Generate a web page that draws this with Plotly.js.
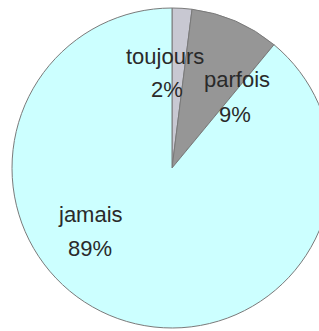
<!DOCTYPE html>
<html>
<head>
<meta charset="utf-8">
<script src="https://cdn.plot.ly/plotly-3.0.1.min.js"></script>
<style>
html,body{margin:0;padding:0;background:#fff;overflow:hidden;width:319px;height:331px;}
#chart{width:344px;height:331px;}
</style>
</head>
<body>
<div id="chart"></div>
<script>
var labels = ["toujours", "parfois", "jamais"];
var values = [2, 9, 89];
var colors = ["#c8c8d2", "#969696", "#ccffff"];
// label anchor positions (pixels in page) for each slice: [labelX, labelY, pctX, pctY]
var labelPos = [[165, 56, 167, 89], [237, 79, 235, 114], [90, 214, 90, 248]];

var W = 344, H = 331, ML = 12, MT = 8, PW = 320, PH = 320;
var total = values.reduce(function(a, b){ return a + b; }, 0);

var annotations = [];
for (var i = 0; i < labels.length; i++) {
  var p = labelPos[i];
  var pct = Math.round(values[i] / total * 100) + "%";
  [[labels[i], p[0], p[1]], [pct, p[2], p[3]]].forEach(function(t){
    annotations.push({
      text: t[0], xref: "paper", yref: "paper",
      x: (t[1] - ML) / PW, y: 1 - (t[2] - MT) / PH,
      xanchor: "center", yanchor: "middle", showarrow: false,
      font: {family: "Liberation Sans, Arial, sans-serif", size: 22, color: "#2a2a2a"}
    });
  });
}

Plotly.newPlot("chart", [{
  type: "pie",
  labels: labels,
  values: values,
  sort: false,
  direction: "clockwise",
  rotation: 0,
  textinfo: "none",
  hoverinfo: "label+percent",
  marker: {colors: colors, line: {color: "#7a7a7a", width: 1}}
}], {
  width: W, height: H,
  margin: {l: ML, r: W - ML - PW, t: MT, b: H - MT - PH, pad: 0},
  paper_bgcolor: "#ffffff",
  showlegend: false,
  annotations: annotations
}, {staticPlot: true, displayModeBar: false});
</script>
</body>
</html>
